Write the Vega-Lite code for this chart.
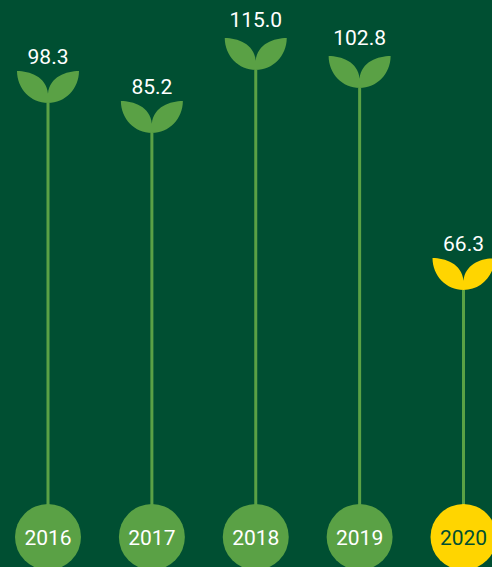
{
  "$schema": "https://vega.github.io/schema/vega-lite/v6.json",
  "width": 492,
  "height": 567,
  "padding": 0,
  "autosize": "none",
  "background": "#004F32",
  "view": {"stroke": null},
  "data": {"values": [
    {"year": "2016", "value": 98.3, "label": "98.3"},
    {"year": "2017", "value": 85.2, "label": "85.2"},
    {"year": "2018", "value": 115.0, "label": "115.0"},
    {"year": "2019", "value": 102.8, "label": "102.8"},
    {"year": "2020", "value": 66.3, "label": "66.3"}
  ]},
  "encoding": {
    "x": {"field": "year", "type": "ordinal", "axis": null,
      "scale": {"type": "point", "padding": 0, "domain": ["2016","2017","2018","2019","2020"], "range": [48, 463.5]}}
  },
  "resolve": {"scale": {"color": "independent"}},
  "layer": [
    {
      "mark": {"type": "rule", "strokeWidth": 3, "color": "#5AA145"},
      "encoding": {
        "y": {"field": "value", "type": "quantitative", "axis": null,
          "scale": {"domain": [0, 66.3, 85.2, 98.3, 102.8, 115], "range": [505, 290, 133, 103, 88, 70], "clamp": false, "nice": false, "zero": false}},
        "y2": {"datum": 0}
      }
    },
    {
      "mark": {"type": "point", "filled": true, "opacity": 1, "strokeWidth": 0, "size": 3844,
        "shape": "M0,0 C-0.55,0 -1,-0.45 -1,-1.03 C-0.6,-1.03 -0.05,-0.85 0,-0.3 C0.05,-0.85 0.6,-1.03 1,-1.03 C1,-0.45 0.55,0 0,0 Z"},
      "encoding": {
        "y": {"field": "value", "type": "quantitative", "axis": null},
        "color": {"field": "year", "type": "nominal", "legend": null,
          "scale": {"domain": ["2016","2017","2018","2019","2020"], "range": ["#5AA145","#5AA145","#5AA145","#5AA145","#FFD500"]}}
      }
    },
    {
      "transform": [{"filter": "datum.value < 100"}],
      "mark": {"type": "text", "font": "Roboto", "fontSize": 21, "color": "#FFFFFF", "align": "center", "baseline": "alphabetic", "dy": -39},
      "encoding": {
        "y": {"field": "value", "type": "quantitative", "axis": null},
        "text": {"field": "label"}
      }
    },
    {
      "transform": [{"filter": "datum.value >= 100"}],
      "mark": {"type": "text", "font": "Roboto", "fontSize": 21, "color": "#FFFFFF", "align": "center", "baseline": "alphabetic", "dy": -43},
      "encoding": {
        "y": {"field": "value", "type": "quantitative", "axis": null},
        "text": {"field": "label"}
      }
    },
    {
      "mark": {"type": "point", "filled": true, "opacity": 1, "strokeWidth": 0, "shape": "circle", "size": 4356},
      "encoding": {
        "y": {"value": 537},
        "color": {"field": "year", "type": "nominal", "legend": null,
          "scale": {"domain": ["2016","2017","2018","2019","2020"], "range": ["#5AA145","#5AA145","#5AA145","#5AA145","#FFD500"]}}
      }
    },
    {
      "mark": {"type": "text", "font": "Roboto", "fontSize": 21, "align": "center", "baseline": "middle", "dy": 1.5},
      "encoding": {
        "y": {"value": 537},
        "text": {"field": "year"},
        "color": {"field": "year", "type": "nominal", "legend": null,
          "scale": {"domain": ["2016","2017","2018","2019","2020"], "range": ["#FFFFFF","#FFFFFF","#FFFFFF","#FFFFFF","#004F32"]}}
      }
    }
  ]
}
